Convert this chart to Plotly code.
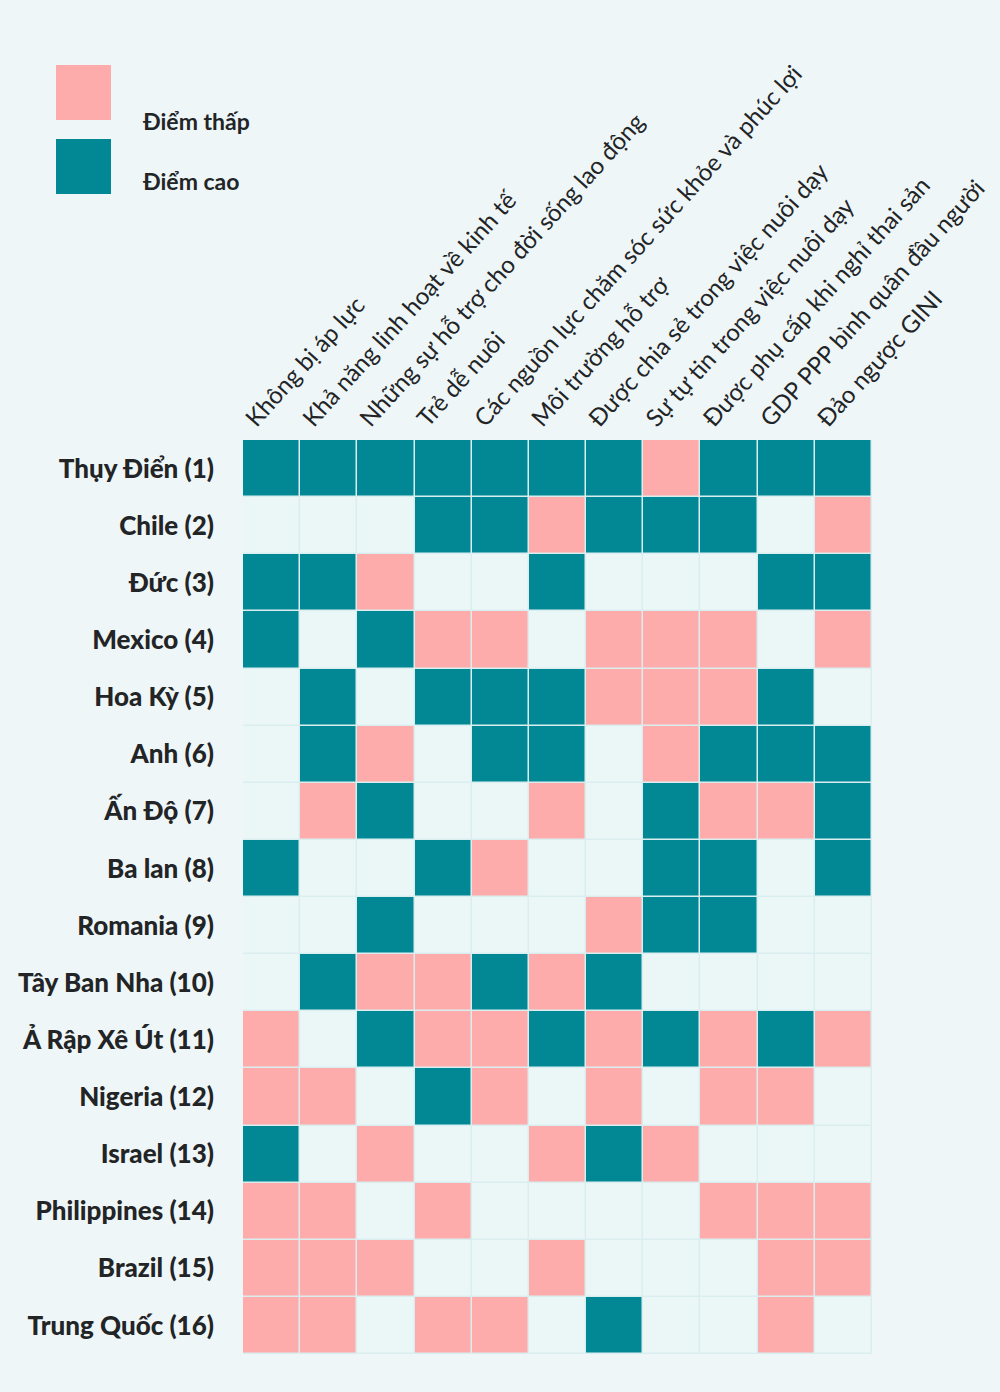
import plotly.graph_objects as go

countries = ["Thụy Điển (1)", "Chile (2)", "Đức (3)", "Mexico (4)", "Hoa Kỳ (5)", "Anh (6)",
             "Ấn Độ (7)", "Ba lan (8)", "Romania (9)", "Tây Ban Nha (10)", "Ả Rập Xê Út (11)",
             "Nigeria (12)", "Israel (13)", "Philippines (14)", "Brazil (15)", "Trung Quốc (16)"]

criteria = ["Không bị áp lực", "Khả năng linh hoạt về kinh tế",
            "Những sự hỗ trợ cho đời sống lao động", "Trẻ dễ nuôi",
            "Các nguồn lực chăm sóc sức khỏe và phúc lợi", "Môi trường hỗ trợ",
            "Được chia sẻ trong việc nuôi dạy", "Sự tự tin trong việc nuôi dạy",
            "Được phụ cấp khi nghỉ thai sản", "GDP PPP bình quân đầu người", "Đảo ngược GINI"]

# 1 = Điểm cao, -1 = Điểm thấp, 0 = trung bình
scores = [
    [1, 1, 1, 1, 1, 1, 1, -1, 1, 1, 1],
    [0, 0, 0, 1, 1, -1, 1, 1, 1, 0, -1],
    [1, 1, -1, 0, 0, 1, 0, 0, 0, 1, 1],
    [1, 0, 1, -1, -1, 0, -1, -1, -1, 0, -1],
    [0, 1, 0, 1, 1, 1, -1, -1, -1, 1, 0],
    [0, 1, -1, 0, 1, 1, 0, -1, 1, 1, 1],
    [0, -1, 1, 0, 0, -1, 0, 1, -1, -1, 1],
    [1, 0, 0, 1, -1, 0, 0, 1, 1, 0, 1],
    [0, 0, 1, 0, 0, 0, -1, 1, 1, 0, 0],
    [0, 1, -1, -1, 1, -1, 1, 0, 0, 0, 0],
    [-1, 0, 1, -1, -1, 1, -1, 1, -1, 1, -1],
    [-1, -1, 0, 1, -1, 0, -1, 0, -1, -1, 0],
    [1, 0, -1, 0, 0, -1, 1, -1, 0, 0, 0],
    [-1, -1, 0, -1, 0, 0, 0, 0, -1, -1, -1],
    [-1, -1, -1, 0, 0, -1, 0, 0, 0, -1, -1],
    [-1, -1, 0, -1, -1, 0, 1, 0, 0, -1, 0],
]

legend_labels = ["Điểm thấp", "Điểm cao"]

PINK = "#FEABAB"
TEAL = "#028895"
NEUTRAL = "#EBF6F7"
BG = "#EEF6F8"
GRID = "#DAEEF0"
TXT = "#222426"

W, H = 1000, 1392
ML, MR, MT, MB = 243, 128, 440, 38

fig = go.Figure(go.Heatmap(
    z=scores, x=criteria, y=countries,
    zmin=-1, zmax=1,
    colorscale=[[0, PINK], [0.333, PINK], [0.333, NEUTRAL], [0.667, NEUTRAL],
                [0.667, TEAL], [1, TEAL]],
    showscale=False, xgap=1.5, ygap=1.5, hoverinfo="x+y",
))

fig.update_layout(
    width=W, height=H,
    margin=dict(l=ML, r=MR, t=MT, b=MB, pad=0, autoexpand=False),
    paper_bgcolor=BG, plot_bgcolor=GRID,
    font=dict(family="Lato", color=TXT),
    xaxis=dict(side="top", tickangle=-48, showgrid=False, zeroline=False,
               ticks="", tickfont=dict(size=24, color=TXT), ticklabelstandoff=2,
               ticklabelshift=-24, fixedrange=True, automargin=False),
    yaxis=dict(autorange="reversed", showgrid=False, zeroline=False, ticks="",
               tickfont=dict(size=26, color=TXT, weight=900),
               ticklabelstandoff=28, fixedrange=True, automargin=False),
)

pw, ph = W - ML - MR, H - MT - MB


def px_x(x):
    return (x - ML) / pw


def px_y(y):
    return (H - MB - y) / ph


legend_colors = [PINK, TEAL]
legend_tops = [65, 139]
legend_text_y = [121, 181]
for lab, col, top, ty in zip(legend_labels, legend_colors, legend_tops, legend_text_y):
    fig.add_shape(type="rect", xref="paper", yref="paper",
                  x0=px_x(56), x1=px_x(111), y0=px_y(top + 55), y1=px_y(top),
                  fillcolor=col, line=dict(width=0))
    fig.add_annotation(text=lab, xref="paper", yref="paper",
                       x=px_x(140), y=px_y(ty), xanchor="left", yanchor="middle",
                       showarrow=False, font=dict(size=23, color=TXT, weight="bold"))

fig.write_html("out.html", config={"displayModeBar": False},
               post_script="document.body.style.margin='0';")
